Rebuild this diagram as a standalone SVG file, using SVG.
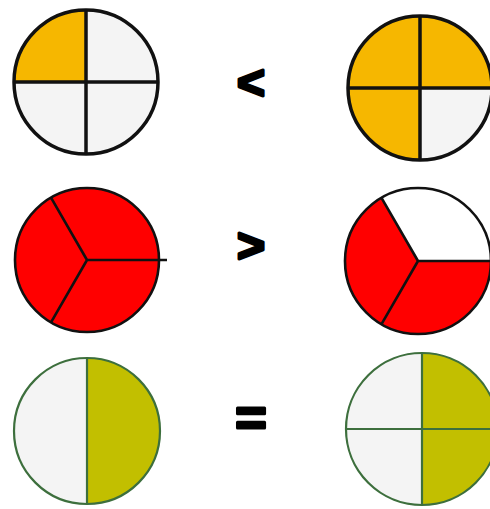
<svg xmlns="http://www.w3.org/2000/svg" width="490" height="509" viewBox="0 0 490 509">
<style>
.blk{stroke:#111;stroke-width:3.5;stroke-linejoin:round}
.red{stroke:#111;stroke-width:2.6;stroke-linejoin:round}
.grn{stroke:#3d6f3d;stroke-width:2.2}
.y{fill:#f6b700}.w{fill:#f4f4f4}.r{fill:#ff0000}.wh{fill:#ffffff}.o{fill:#c2bf00}
.sym{font-family:"Liberation Sans",Arial,sans-serif;font-weight:bold;fill:#000;stroke:#000;stroke-width:3;stroke-linejoin:round;text-anchor:middle}
</style>
<rect width="490" height="509" fill="#fff"/>
<g id="pie1">
<circle cx="86" cy="82" r="72" class="w"/>
<path d="M86,82 L14,82 A72,72 0 0 1 86,10 Z" class="y"/>
<circle cx="86" cy="82" r="72" fill="none" class="blk"/>
<path d="M86,10 V154 M14,82 H158" fill="none" class="blk"/>
</g>
<g id="pie2">
<circle cx="420" cy="88" r="72" class="y"/>
<path d="M420,88 L492,88 A72,72 0 0 1 420,160 Z" class="w"/>
<circle cx="420" cy="88" r="72" fill="none" class="blk"/>
<path d="M420,16 V160 M348,88 H492" fill="none" class="blk"/>
</g>
<g id="pie3">
<circle cx="87" cy="260" r="72" class="r red"/>
<path d="M51,197.6 L87,260 L167,260 M87,260 L51,322.4" fill="none" class="red"/>
</g>
<g id="pie4">
<circle cx="418" cy="261" r="73" class="r"/>
<path d="M418,261 L381.5,197.8 A73,73 0 0 1 491,261 Z" class="wh"/>
<circle cx="418" cy="261" r="73" fill="none" class="red"/>
<path d="M381.5,197.8 L418,261 L491,261 M418,261 L381.5,324.2" fill="none" class="red"/>
</g>
<g id="pie5">
<circle cx="87" cy="431" r="73" class="w"/>
<path d="M87,358 A73,73 0 0 1 87,504 Z" class="o"/>
<circle cx="87" cy="431" r="73" fill="none" class="grn"/>
<path d="M87,358 V504" fill="none" class="grn"/>
</g>
<g id="pie6">
<circle cx="422" cy="429" r="76" class="w"/>
<path d="M422,353 A76,76 0 0 1 422,505 Z" class="o"/>
<circle cx="422" cy="429" r="76" fill="none" class="grn"/>
<path d="M422,353 V505 M346,429 H498" fill="none" class="grn"/>
</g>
<g id="sym-lt"><text x="251" y="99" font-size="48" class="sym">&lt;</text></g>
<g id="sym-gt"><text x="251" y="262" font-size="48" class="sym">&gt;</text></g>
<g id="sym-eq"><text x="251" y="436" font-size="54" class="sym">=</text></g>
</svg>
